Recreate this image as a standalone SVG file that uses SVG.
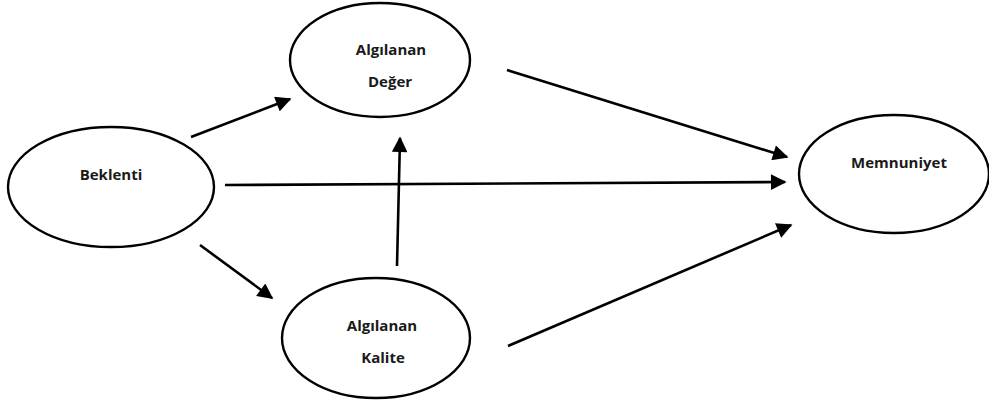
<svg xmlns="http://www.w3.org/2000/svg" width="989" height="404" viewBox="0 0 989 404">
  <style>
    .node ellipse { fill: #ffffff; stroke: #000000; stroke-width: 2.4; }
    .node text { font-family: "Open Sans", "Liberation Sans", Arial, sans-serif; font-weight: bold; font-size: 15px; fill: #1a1a1a; text-anchor: middle; }
    .edge { stroke: #000000; stroke-width: 2.6; fill: none; marker-end: url(#arrow); }
  </style>
  <defs>
    <marker id="arrow" viewBox="0 0 10 10" refX="9" refY="5" markerWidth="6.5" markerHeight="6" markerUnits="strokeWidth" orient="auto">
      <path d="M0,0 L10,5 L0,10 z" fill="#000000"/>
    </marker>
  </defs>
  <rect width="989" height="404" fill="#ffffff"/>

  <g id="connectors">
    <line class="edge" x1="191" y1="137" x2="290" y2="99"/>
    <line class="edge" x1="225" y1="185" x2="785" y2="182"/>
    <line class="edge" x1="200" y1="245" x2="272" y2="298"/>
    <line class="edge" x1="397" y1="266" x2="400" y2="138"/>
    <line class="edge" x1="507" y1="70" x2="787" y2="157"/>
    <line class="edge" x1="508" y1="346" x2="791" y2="225"/>
  </g>

  <g id="node-deger" class="node">
    <ellipse cx="380" cy="60" rx="90" ry="57"/>
    <text x="391" y="55">Algılanan</text>
    <text x="390" y="87">Değer</text>
  </g>

  <g id="node-beklenti" class="node">
    <ellipse cx="111" cy="187" rx="103" ry="60"/>
    <text x="111" y="180">Beklenti</text>
  </g>

  <g id="node-kalite" class="node">
    <ellipse cx="376" cy="338" rx="94" ry="60"/>
    <text x="382" y="331">Algılanan</text>
    <text x="383" y="363">Kalite</text>
  </g>

  <g id="node-memnuniyet" class="node">
    <ellipse cx="894" cy="174" rx="95" ry="59"/>
    <text x="899" y="168">Memnuniyet</text>
  </g>
</svg>
